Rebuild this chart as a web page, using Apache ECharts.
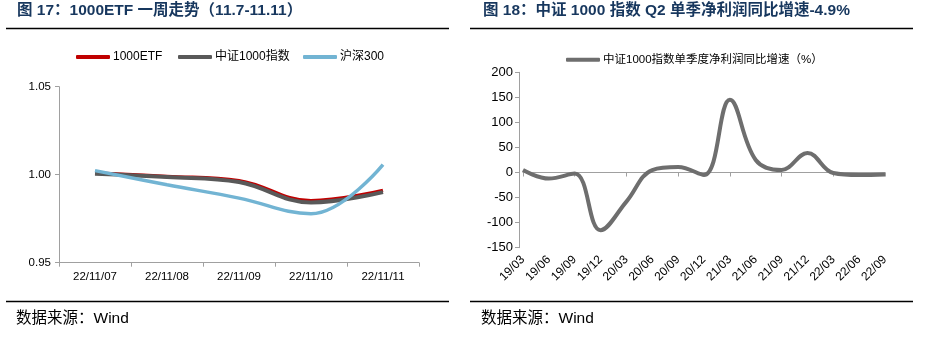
<!DOCTYPE html>
<html><head><meta charset="utf-8">
<script src="https://cdn.jsdelivr.net/npm/echarts@6/dist/echarts.min.js"></script>
<style>html,body{margin:0;padding:0;background:#fff}#c{width:942px;height:343px}</style>
</head><body><div id="c"></div>
<script>
// Left chart data
var dates = ['22/11/07','22/11/08','22/11/09','22/11/10','22/11/11'];
var etf1000 = [1.001, 0.999, 0.9966, 0.9852, 0.9911];
var csi1000 = [1.0006, 0.9987, 0.9958, 0.9842, 0.9901];
var hs300 = [1.0023, 0.9943, 0.9867, 0.9778, 1.0057];
var leftYTicks = [0.95, 1.00, 1.05];
// Right chart data
var quarters = ['19/03','19/06','19/09','19/12','20/03','20/06','20/09','20/12','21/03','21/06','21/09','21/12','22/03','22/06','22/09'];
var profitGrowth = [5, -12, -2, -115, -58, 5, 11, -5, 145, 25, 5, 39, -1, -5, -4];
var rightYTicks = [-150, -100, -50, 0, 50, 100, 150, 200];

var chart = echarts.init(document.getElementById('c'), null, {renderer: 'canvas'});
var lat = 'Liberation Sans, Arial, Noto Sans CJK SC, sans-serif';
var cjk = 'Liberation Sans, Noto Sans CJK SC, sans-serif';
var axisCol = '#a0a0a0';
var titleCol = '#17375E';

function legendAt(name, x, y, fs) {
  return {
    data: [name], left: x, top: y, itemWidth: 34, itemHeight: 4, icon: 'roundRect',
    itemGap: 3, padding: 0,
    textStyle: {fontFamily: cjk, fontSize: fs || 12, color: '#000', padding: [0,0,0,-2]}
  };
}

var option = {
  animation: false,
  backgroundColor: '#fff',
  legend: [
    legendAt('1000ETF', 76, 51),
    legendAt('中证1000指数', 178, 51),
    legendAt('沪深300', 303, 51),
    legendAt('中证1000指数单季度净利润同比增速（%）', 566, 54, 11.5)
  ],
  grid: [
    {left: 59, top: 86.7, width: 360, height: 176},
    {left: 523, top: 72.3, width: 362, height: 175.4}
  ],
  xAxis: [
    {
      gridIndex: 0, type: 'category', data: dates, boundaryGap: true,
      axisLine: {lineStyle: {color: axisCol, width: 1}},
      axisTick: {show: true, length: 4, lineStyle: {color: axisCol}},
      axisLabel: {fontFamily: lat, fontSize: 11.5, color: '#000', margin: 8}
    },
    {
      gridIndex: 1, type: 'category', data: quarters, boundaryGap: false,
      position: 'bottom',
      axisLine: {show: false, onZero: false},
      axisTick: {show: false},
      axisLabel: {fontFamily: lat, fontSize: 12, color: '#000', rotate: 45, margin: 10, interval: 0}
    },
    {
      gridIndex: 1, type: 'category', data: quarters, boundaryGap: false,
      position: 'bottom',
      axisLine: {show: true, onZero: true, lineStyle: {color: axisCol, width: 1}},
      axisTick: {show: true, length: 4, lineStyle: {color: axisCol}},
      axisLabel: {show: false}
    }
  ],
  yAxis: [
    {
      gridIndex: 0, type: 'value', min: leftYTicks[0], max: leftYTicks[leftYTicks.length-1], interval: 0.05,
      axisLine: {show: true, lineStyle: {color: axisCol, width: 1}},
      axisTick: {show: true, length: 4, lineStyle: {color: axisCol}},
      splitLine: {show: false},
      axisLabel: {fontFamily: lat, fontSize: 11.5, color: '#000', margin: 8,
        formatter: function(v){ return v.toFixed(2); }}
    },
    {
      gridIndex: 1, type: 'value', min: rightYTicks[0], max: rightYTicks[rightYTicks.length-1], interval: 50,
      offset: 4,
      axisLine: {show: true, lineStyle: {color: axisCol, width: 1}},
      axisTick: {show: true, length: 4, lineStyle: {color: axisCol}},
      splitLine: {show: false},
      axisLabel: {fontFamily: lat, fontSize: 13, color: '#000', margin: 6}
    }
  ],
  series: [
    {name: '1000ETF', type: 'line', xAxisIndex: 0, yAxisIndex: 0, data: etf1000, smooth: 0.4,
      showSymbol: false, itemStyle: {color: '#C00000'}, lineStyle: {color: '#C00000', width: 3.5}, z: 2},
    {name: '中证1000指数', type: 'line', xAxisIndex: 0, yAxisIndex: 0, data: csi1000, smooth: 0.4,
      showSymbol: false, itemStyle: {color: '#595959'}, lineStyle: {color: '#595959', width: 4}, z: 3},
    {name: '沪深300', type: 'line', xAxisIndex: 0, yAxisIndex: 0, data: hs300, smooth: 0.4,
      showSymbol: false, itemStyle: {color: '#72B4D3'}, lineStyle: {color: '#72B4D3', width: 3.5}, z: 4},
    {name: '中证1000指数单季度净利润同比增速（%）', type: 'line', xAxisIndex: 1, yAxisIndex: 1, data: profitGrowth, smooth: 0.4,
      showSymbol: false, itemStyle: {color: '#6E6E6E'}, lineStyle: {color: '#6E6E6E', width: 4}, z: 3}
  ],
  graphic: [
    {type: 'text', left: 17, top: 3, style: {text: '图 17：1000ETF 一周走势（11.7-11.11）', font: 'bold 15.5px ' + cjk, fill: titleCol}},
    {type: 'text', left: 483, top: 3, style: {text: '图 18：中证 1000 指数 Q2 单季净利润同比增速-4.9%', font: 'bold 15.5px ' + cjk, fill: titleCol}},
    {type: 'line', shape: {x1: 6, y1: 28.5, x2: 449, y2: 28.5}, style: {stroke: '#000', lineWidth: 1.5}},
    {type: 'line', shape: {x1: 470, y1: 28.5, x2: 913, y2: 28.5}, style: {stroke: '#000', lineWidth: 1.5}},
    {type: 'line', shape: {x1: 6, y1: 301.5, x2: 449, y2: 301.5}, style: {stroke: '#000', lineWidth: 1.5}},
    {type: 'line', shape: {x1: 470, y1: 301.5, x2: 913, y2: 301.5}, style: {stroke: '#000', lineWidth: 1.5}},
    {type: 'text', left: 16, top: 311, style: {text: '数据来源：Wind', font: '15.5px ' + cjk, fill: '#000'}},
    {type: 'text', left: 481, top: 311, style: {text: '数据来源：Wind', font: '15.5px ' + cjk, fill: '#000'}}
  ]
};
chart.setOption(option);
</script>
</body></html>
